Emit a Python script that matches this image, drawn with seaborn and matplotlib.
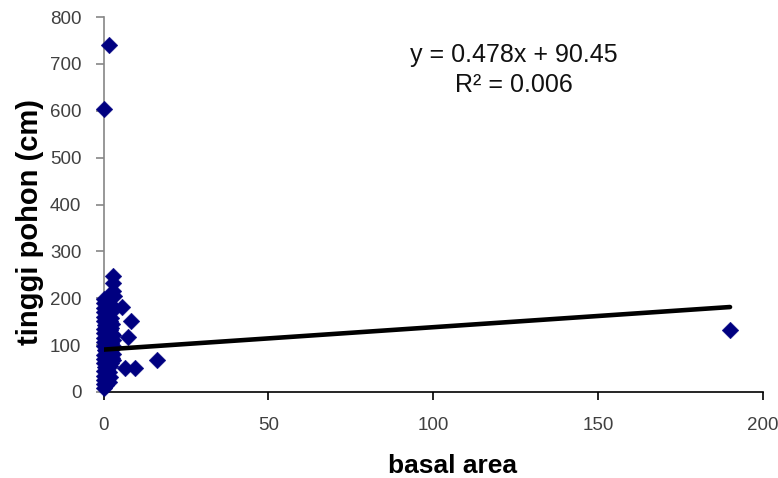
import matplotlib
matplotlib.use("Agg")
import matplotlib.pyplot as plt
import seaborn as sns
import pandas as pd
import numpy as np

# ---- data ----
basal_area = [
    # dense cluster near x = 0
    0.1, 0.2, 0.05, 0.3, 0.15, 0.4, 0.1, 0.25, 0.05, 0.35, 0.2, 0.1,
    0.3, 0.15, 0.05, 0.4, 0.2, 0.1, 0.3, 0.25, 0.05, 0.15,
    0.9, 1.1, 0.8, 1.2, 1.0, 0.9, 1.1, 0.8, 1.2, 1.0, 0.9, 1.1,
    0.8, 1.2, 1.0, 0.9, 1.1, 1.0, 0.8, 1.2,
    1.7, 1.9, 1.6, 2.0, 1.8, 1.7, 1.9, 1.6, 2.0, 1.8, 1.7, 1.9,
    1.6, 2.0, 1.8, 1.7, 1.9, 1.6,
    2.3, 2.5, 2.2, 2.6, 2.4, 2.3, 2.5, 2.2, 2.6, 2.4, 2.3, 2.5,
    3.0, 2.9, 3.1, 3.0, 2.8,
    2.9, 3.0, 2.8, 3.1,
    # scattered points
    5.5, 8.3, 7.3, 6.6, 9.6, 16.1, 1.6, 0.3, 190.0,
]
tinggi_pohon = [
    8, 17, 26, 35, 44, 53, 62, 71, 80, 89, 98, 107,
    116, 125, 134, 143, 152, 161, 170, 180, 190, 199,
    15, 25, 34, 46, 57, 66, 78, 87, 96, 108, 118, 128,
    139, 149, 158, 168, 178, 187, 195, 200,
    22, 31, 42, 55, 64, 75, 86, 97, 105, 114, 124, 133,
    142, 151, 161, 170, 180, 190,
    62, 72, 83, 93, 104, 113, 124, 136, 146, 158, 170, 184,
    68, 82, 96, 110, 122,
    248, 232, 216, 204,
    182, 152, 118, 52, 52, 68, 740, 603, 133,
]

slope = 0.478
intercept = 90.45
equation_text = "y = 0.478x + 90.45"
r2_text = "R² = 0.006"

x_ticks = [0, 50, 100, 150, 200]
y_ticks = [0, 100, 200, 300, 400, 500, 600, 700, 800]

df = pd.DataFrame({"basal_area": basal_area, "tinggi": tinggi_pohon})

# ---- figure ----
sns.set_theme(style="ticks")
plt.rcParams["font.family"] = ["Liberation Sans", "DejaVu Sans"]

fig = plt.figure(figsize=(7.78, 4.78), dpi=100)
ax = fig.add_axes([103.5 / 778, 86 / 478, (763 - 103.5) / 778, 375 / 478])

sns.scatterplot(data=df, x="basal_area", y="tinggi", marker="D", s=72,
                color="#000080", edgecolor="#000080", linewidth=0.3,
                ax=ax, clip_on=False, zorder=3, legend=False)

xs = np.array([min(basal_area), max(basal_area)])
ys = slope * xs + intercept
sns.lineplot(x=xs, y=ys, color="black", linewidth=3.3, ax=ax,
             solid_capstyle="round", zorder=4)

ax.set_xlim(0, 200)
ax.set_ylim(0, 800)
ax.set_xticks(x_ticks)
ax.set_yticks(y_ticks)
ax.set_xticklabels([str(t) for t in x_ticks])
ax.set_yticklabels([str(t) for t in y_ticks])

ax.spines["top"].set_visible(False)
ax.spines["right"].set_visible(False)
ax.spines["left"].set_color("#868686")
ax.spines["left"].set_linewidth(1.2)
ax.spines["bottom"].set_color("#000000")
ax.spines["bottom"].set_linewidth(1.2)

ax.tick_params(axis="y", direction="out", length=6, width=1.2,
               color="#868686", labelsize=13.5, labelcolor="#404040", pad=10)
ax.tick_params(axis="x", direction="out", length=6, width=1.2,
               color="#000000", labelsize=13.5, labelcolor="#404040", pad=12)

ax.set_xlabel("")
ax.set_ylabel("")
fig.text(30 / 778, 1 - 222 / 478, "tinggi pohon (cm)", rotation=90,
         ha="center", va="center", fontsize=21, fontweight="bold", color="black")
fig.text(453 / 778, 1 - 473 / 478, "basal area", ha="center", va="baseline",
         fontsize=19, fontweight="bold", color="black")

ax.text(0.6215, 0.899, equation_text, transform=ax.transAxes, ha="center",
        va="center", fontsize=18, color="#111111")
ax.text(0.6215, 0.819, r2_text, transform=ax.transAxes, ha="center",
        va="center", fontsize=18, color="#111111")

fig.savefig("out.png", dpi=100, facecolor="white")
